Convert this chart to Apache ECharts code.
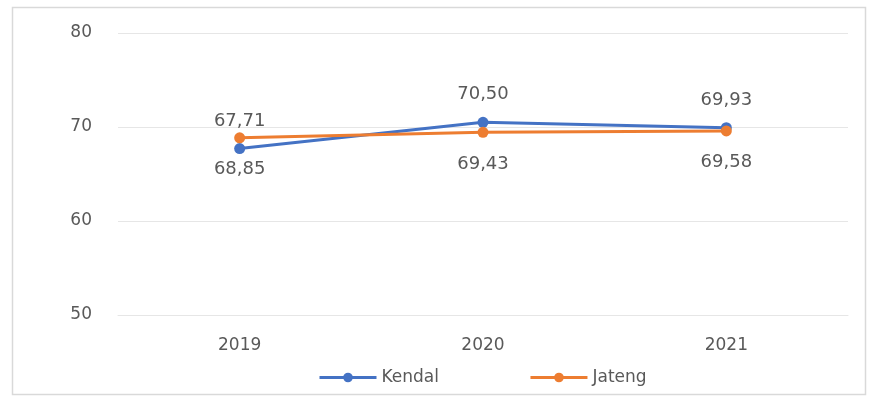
<!DOCTYPE html>
<html><head><meta charset="utf-8">
<script src="https://cdn.jsdelivr.net/npm/echarts@6/dist/echarts.min.js"></script>
<style>html,body{margin:0;padding:0;background:#fff}#c{width:869px;height:403px}</style>
</head><body><div id="c"></div>
<script>
const years = ['2019', '2020', '2021'];
const kendal = [67.71, 70.50, 69.93];
const jateng = [68.85, 69.43, 69.58];
const yTicks = { min: 50, max: 80, interval: 10 };

const fmt = p => p.value.toFixed(2).replace('.', ',');
const chart = echarts.init(document.getElementById('c'));
const font = 'DejaVu Sans';
chart.setOption({
  animation: false,
  textStyle: { fontFamily: font },
  graphic: [{
    type: 'rect', shape: { x: 12.5, y: 7.5, width: 853, height: 387 },
    style: { fill: 'none', stroke: '#d9d9d9', lineWidth: 1.5 }, silent: true, z: -1
  }],
  grid: { left: 118, right: 21, top: 33, bottom: 88 },
  legend: {
    left: 313, bottom: 12, itemGap: 90, itemWidth: 57, itemHeight: 12,
    lineStyle: { width: 3 },
    textStyle: { color: '#595959', fontSize: 17, fontFamily: font },
    data: ['Kendal', 'Jateng']
  },
  xAxis: {
    type: 'category', data: years, boundaryGap: true,
    axisLine: { lineStyle: { color: '#e6e6e6' } }, axisTick: { show: false },
    axisLabel: { color: '#595959', fontSize: 17, margin: 22 }
  },
  yAxis: {
    type: 'value', min: yTicks.min, max: yTicks.max, interval: yTicks.interval,
    axisLine: { show: false }, axisTick: { show: false },
    splitLine: { lineStyle: { color: '#e6e6e6', width: 1 } },
    axisLabel: { color: '#595959', fontSize: 17, margin: 26 }
  },
  series: [
    { name: 'Kendal', type: 'line', data: kendal, symbol: 'circle', symbolSize: 11,
      itemStyle: { color: '#4472C4' }, lineStyle: { width: 3 },
      label: { show: true, position: 'top', distance: 13, formatter: fmt, color: '#595959', fontSize: 18 } },
    { name: 'Jateng', type: 'line', data: jateng, symbol: 'circle', symbolSize: 11,
      itemStyle: { color: '#ED7D31' }, lineStyle: { width: 3 },
      label: { show: true, position: 'bottom', distance: 17, formatter: fmt, color: '#595959', fontSize: 18 } }
  ]
});
</script></body></html>
